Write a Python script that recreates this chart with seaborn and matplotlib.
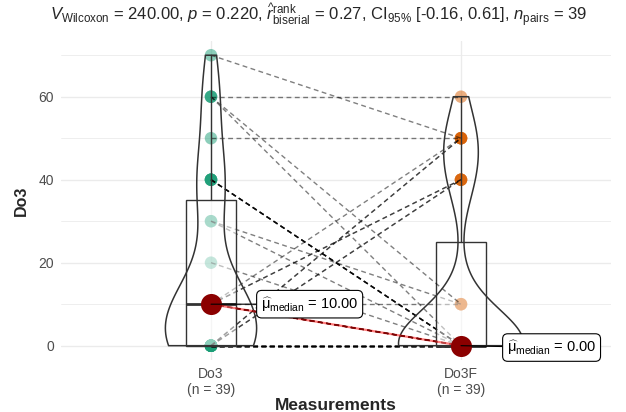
import numpy as np
import pandas as pd
import matplotlib
matplotlib.use("Agg")
import matplotlib.pyplot as plt
import seaborn as sns

# ---------------- data ----------------
conditions = ["Do3", "Do3F"]
tick_labels = ["Do3\n(n = 39)", "Do3F\n(n = 39)"]
# paired observations (one entry per subject)
do3 = [0] * 11 + [0, 0] + [0, 0] \
    + [10] * 7 + [10] + [10, 10] + [10] \
    + [20] + [30, 30] + [40] * 5 + [50] + [60, 60, 60] + [70]
do3f = [0] * 11 + [40, 40] + [50, 50] \
    + [0] * 7 + [10] + [40, 40] + [50] \
    + [0] + [0, 10] + [0] * 5 + [50] + [60, 0, 10] + [50]
point_colors = ["#1B9E77", "#D95F02"]
median_texts = ["10.00", "0.00"]
title = (r"$V_{\mathrm{Wilcoxon}}$ = 240.00, $p$ = 0.220, "
         r"$\widehat{r}_{\mathrm{biserial}}^{\mathrm{rank}}$ = 0.27, "
         r"CI$_{95\%}$ [-0.16, 0.61], $n_{\mathrm{pairs}}$ = 39")

# ---------------- style ----------------
sns.set_theme(style="white")
plt.rcParams["font.family"] = ["Liberation Sans", "DejaVu Sans"]
plt.rcParams["mathtext.fontset"] = "custom"
plt.rcParams["mathtext.rm"] = "Liberation Sans"
plt.rcParams["mathtext.it"] = "Liberation Sans:italic"
plt.rcParams["mathtext.bf"] = "Liberation Sans:bold"

n = len(do3)
long = pd.DataFrame({
    "pair": list(range(n)) * 2,
    "condition": [conditions[0]] * n + [conditions[1]] * n,
    "pos": [0] * n + [1] * n,
    "value": do3 + do3f,
})

W, H = 626, 412
fig = plt.figure(figsize=(W / 100, H / 100), dpi=100)
left, right, top, bottom = 61, 611, 40.7, 360.2
ax = fig.add_axes([left / W, 1 - bottom / H, (right - left) / W, (bottom - top) / H])

# points
sns.stripplot(data=long, x="pos", y="value", hue="condition", palette=point_colors,
              native_scale=True, jitter=False, size=9, alpha=0.5, linewidth=0,
              legend=False, zorder=2, ax=ax)

# paired paths
sns.lineplot(data=long, x="pos", y="value", units="pair", estimator=None,
             color="black", alpha=0.5, linewidth=1.0, linestyle=(0, (3.5, 2.5)),
             sort=False, legend=False, zorder=2.5, ax=ax)

# boxplots
n_before = len(ax.patches)
sns.boxplot(data=long, x="pos", y="value", native_scale=True, width=0.2,
            color="white", linecolor="#333333", linewidth=1.0, showfliers=False,
            medianprops={"linewidth": 2.0}, capprops={"linewidth": 0},
            zorder=3, ax=ax)
for p in ax.patches[n_before:]:
    p.set_facecolor((1, 1, 1, 0.5))
    p.set_zorder(3)
for ln in ax.lines[-12:]:
    ln.set_zorder(3.1)

# violins (separate bandwidths like R's nrd0)
violin_specs = [(do3, 0.365, 0.90), (do3f, 0.5, 0.785)]
for i, (vals, w, bw) in enumerate(violin_specs):
    n_coll, n_lines = len(ax.collections), len(ax.lines)
    sns.violinplot(x=[i] * len(vals), y=vals, native_scale=True, width=w, cut=0,
                   bw_adjust=bw, density_norm="width", inner=None, fill=False,
                   color="#333333", linewidth=1.1, ax=ax)
    for art in ax.collections[n_coll:] + ax.lines[n_lines:]:
        art.set_zorder(3.5)

# medians
medians = [float(np.median(do3)), float(np.median(do3f))]
sns.lineplot(x=[0, 1], y=medians, color="red", alpha=0.5, linewidth=1.6,
             zorder=4, ax=ax)
sns.scatterplot(x=[0, 1], y=medians, color="#8B0000", s=230, linewidth=0,
                zorder=5, legend=False, ax=ax)

label_pos = [(0.20, medians[0]), (1.184, medians[1] - 0.45)]
for i, txt in enumerate(median_texts):
    ax.annotate(r"$\widehat{\mathrm{\mu}}_{\mathrm{median}}$ = " + txt,
                xy=(i, medians[i]), xytext=label_pos[i], ha="left", va="center",
                fontsize=10.5, color="black", zorder=6,
                bbox=dict(boxstyle="round,pad=0.3,rounding_size=0.35",
                          fc="white", ec="black", lw=0.8),
                arrowprops=dict(arrowstyle="-", color="black", lw=0.8,
                                shrinkA=0, shrinkB=0))

# axes cosmetics
ax.set_xlim(-0.6, 1.6)
ax.set_ylim(-3.5, 73.5)
ax.set_xticks([0, 1])
ax.set_xticklabels(tick_labels)
ax.set_yticks([0, 20, 40, 60])
ax.set_yticks([10, 30, 50, 70], minor=True)
ax.grid(True, which="major", axis="both", color="#EBEBEB", linewidth=1.0, zorder=0)
ax.grid(True, which="minor", axis="y", color="#EBEBEB", linewidth=0.6, zorder=0)
ax.set_axisbelow(True)
for s in ax.spines.values():
    s.set_visible(False)
ax.tick_params(axis="both", which="major", length=3, width=0.8, color="#333333",
               labelcolor="#4D4D4D", labelsize=10, pad=2)
ax.tick_params(axis="y", which="minor", length=0)
ax.set_xlabel("Measurements", fontsize=12.5, fontweight="bold")
ax.set_ylabel("Do3", fontsize=11.5, fontweight="bold")
ax.xaxis.set_label_coords(0.5, (bottom - 398) / (bottom - top))
ax.yaxis.set_label_coords((29 - left) / (right - left), 0.5)

fig.text(50 / W, 1 - 15 / H, title, ha="left", va="center", fontsize=12)

fig.savefig("out.png", dpi=100, facecolor="white")
